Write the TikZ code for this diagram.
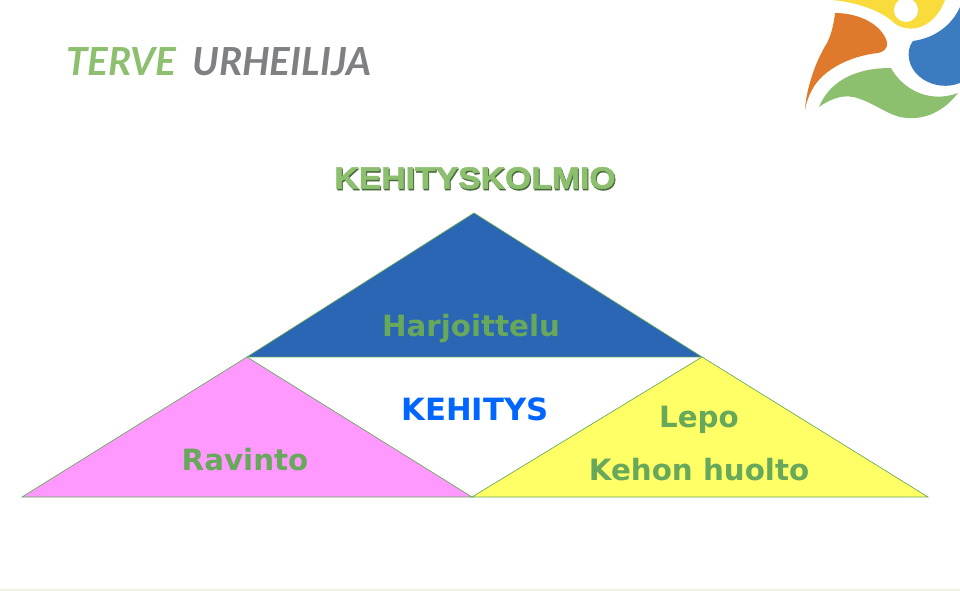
\documentclass[tikz,border=0pt]{standalone}
\usepackage{fontspec}
\usepackage{xcolor}
\usepackage{tikz}
\setmainfont{DejaVu Sans}
\newfontfamily\brandfont{Lato}
\newfontfamily\titlefont[BoldFeatures={FakeBold=1.5}]{Liberation Sans}
\definecolor{brandgreen}{HTML}{8CC06E}
\definecolor{brandgray}{HTML}{7F8083}
\definecolor{labelgreen}{HTML}{68A85A}
\definecolor{shadowgreen}{HTML}{4B6B3E}
\definecolor{kolmioblue}{HTML}{2A66B4}
\definecolor{kolmiopink}{HTML}{FF99FF}
\definecolor{kolmioyellow}{HTML}{FFFF66}
\definecolor{kehitysblue}{HTML}{0066FF}
\definecolor{logoorange}{HTML}{DF7A2C}
\definecolor{logoyellow}{HTML}{F9DC3B}
\definecolor{logoblue}{HTML}{3B7BC0}
\definecolor{bandgreen}{HTML}{EEF2E4}
\tikzset{
  kolmio/.style={draw=labelgreen, line width=0.5pt},
  label text/.style={font=\bfseries\fontsize{22}{26}\selectfont, text=labelgreen, inner sep=0pt},
  brand text/.style={font=\brandfont\bfseries\itshape\fontsize{29}{34}\selectfont, inner sep=0pt, anchor=base west},
  title text/.style={font=\titlefont\bfseries\fontsize{23}{26}\selectfont, inner sep=0pt, xscale=1.1}
}
\begin{document}
\begin{tikzpicture}[x=0.75pt, y=-0.75pt]
  \useasboundingbox (0,0) rectangle (960,591);
  \fill[white] (0,0) rectangle (960,591);
  \fill[bandgreen] (0,589) rectangle (960,591);
  % logo
  \fill[logoorange] (805,110) .. controls (806,90) and (815,62) .. (827,43)
    .. controls (832,33) and (834,22) .. (835,13) .. controls (860,13) and (882,25) .. (887,42)
    .. controls (888,48) and (884,52) .. (878,53) .. controls (850,56) and (822,70) .. (812,90)
    .. controls (808,97) and (806,104) .. (805,110) -- cycle;
  \fill[brandgreen] (819,107) .. controls (828,85) and (850,68) .. (891,68)
    .. controls (900,85) and (925,105) .. (958,93) .. controls (945,110) and (925,122) .. (900,117)
    .. controls (885,113) and (875,104) .. (860,99) .. controls (845,93) and (832,98) .. (819,107) -- cycle;
  \fill[logoblue] (913,41) .. controls (935,38) and (952,25) .. (960,7) -- (960,83)
    .. controls (935,93) and (905,75) .. (909,50) .. controls (910,46) and (911,43) .. (913,41) -- cycle;
  \fill[logoyellow] (832,0) .. controls (855,2) and (880,10) .. (893,22)
    .. controls (905,33) and (932,33) .. (945,0) -- cycle;
  \fill[white] (906,10) circle (12);
  % otsikko
  \node[brand text, text=brandgreen] (terve) at (66,75.5) {TERVE};
  \node[brand text, text=brandgray] (urheilija) at (192,75.5) {URHEILIJA};
  \node[title text, text=shadowgreen] (titleshadow) at (476,179.5) {KEHITYSKOLMIO};
  \node[title text, text=brandgreen] (title) at (475,178) {KEHITYSKOLMIO};
  % kolmiot
  \coordinate (top) at (474,213);
  \coordinate (midleft) at (247,357);
  \coordinate (midright) at (702,357);
  \coordinate (baseleft) at (22,497);
  \coordinate (basemid) at (472,497);
  \coordinate (baseright) at (928,497);
  \draw[kolmio, fill=kolmioblue] (top) -- (midleft) -- (midright) -- cycle;
  \draw[kolmio, fill=kolmiopink] (midleft) -- (baseleft) -- (basemid) -- cycle;
  \draw[kolmio, fill=kolmioyellow] (midright) -- (basemid) -- (baseright) -- cycle;
  \node[label text] (harjoittelu) at (471,329) {Harjoittelu};
  \node[label text, text=kehitysblue, font=\bfseries\fontsize{23}{27}\selectfont] (kehitys) at (475,409) {KEHITYS};
  \node[label text] (ravinto) at (245,460) {Ravinto};
  \node[label text] (lepo) at (699,420) {Lepo};
  \node[label text] (huolto) at (699,470) {Kehon huolto};
\end{tikzpicture}
\end{document}
